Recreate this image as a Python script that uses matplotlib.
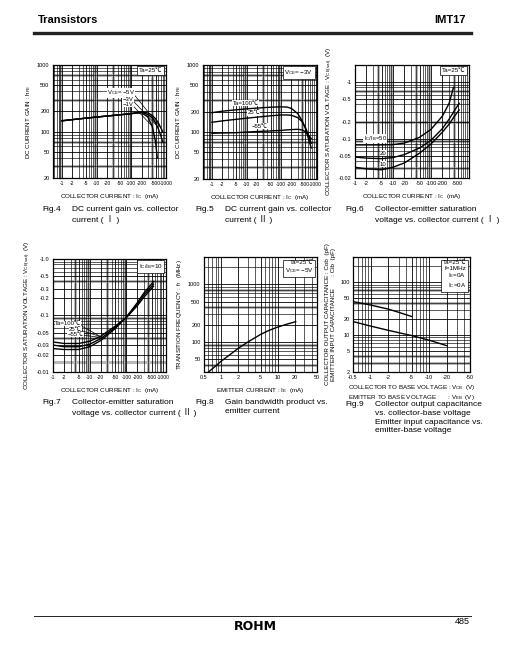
import numpy as np
import matplotlib
matplotlib.use("Agg")
import matplotlib.pyplot as plt
from matplotlib.ticker import FixedLocator, LogLocator, NullFormatter

plt.rcParams["font.family"] = ["Liberation Sans", "Noto Sans CJK JP", "DejaVu Sans"]
plt.rcParams["mathtext.default"] = "regular"

W, H = 505, 649

# ---- data ----
# Fig.4  DC current gain vs collector current (I), Ta=25C
ic4 = [1, 2, 5, 10, 20, 50, 100, 150, 200, 300, 400, 500, 600, 700, 800]
hfe4_5v = [145, 151, 159, 165, 171, 179, 186, 192, 197, 190, 175, 155, 135, 115, 100]
hfe4_3v = [145, 151, 159, 165, 171, 179, 186, 191, 194, 180, 160, 135, 110, 88, 70]
ic4_1v = [1, 2, 5, 10, 20, 50, 100, 150, 200, 300, 400, 500, 560]
hfe4_1v = [145, 151, 159, 165, 171, 179, 186, 190, 190, 165, 120, 70, 40]

# Fig.5  DC current gain vs collector current (II), VCE=-3V
ic5 = [1, 2, 5, 10, 20, 50, 100, 150, 200, 300, 400, 500, 600, 750]
hfe5_100 = [195, 205, 215, 222, 228, 235, 238, 236, 225, 190, 150, 115, 85, 58]
hfe5_25 = [140, 147, 155, 161, 167, 175, 180, 180, 178, 165, 145, 120, 95, 68]
hfe5_m55 = [96, 97, 98, 100, 102, 104, 106, 108, 109, 110, 108, 102, 92, 80]

# Fig.6  VCE(sat) vs IC (I), Ta=25C
ic6_50 = [1, 2, 5, 10, 20, 50, 100, 200, 300, 390]
vs6_50 = [0.077, 0.077, 0.077, 0.078, 0.083, 0.105, 0.145, 0.25, 0.42, 0.8]
ic6 = [1, 2, 5, 10, 20, 50, 100, 200, 300, 400, 550]
vs6_20 = [0.047, 0.045, 0.044, 0.046, 0.052, 0.068, 0.093, 0.15, 0.22, 0.30, 0.42]
vs6_10 = [0.031, 0.029, 0.028, 0.031, 0.037, 0.055, 0.08, 0.13, 0.18, 0.24, 0.32]

# Fig.7  VCE(sat) vs IC (II), IC/IB=10
ic7 = [1, 2, 5, 10, 20, 50, 100, 200, 300, 550]
vs7_100 = [0.034, 0.032, 0.032, 0.035, 0.043, 0.065, 0.092, 0.15, 0.21, 0.33]
vs7_25 = [0.030, 0.028, 0.028, 0.031, 0.039, 0.062, 0.093, 0.16, 0.23, 0.36]
vs7_m55 = [0.026, 0.025, 0.025, 0.028, 0.036, 0.059, 0.094, 0.17, 0.25, 0.40]

# Fig.8  fT vs IE
ie8 = [0.6, 0.8, 1, 1.5, 2, 3, 5, 7, 10, 15, 21]
ft8 = [30, 38, 46, 62, 77, 100, 135, 158, 181, 205, 225]

# Fig.9  Cob / Cib
vcb9 = [0.5, 1, 2, 3, 5]
cob9 = [43, 37, 31, 27, 22.5]
veb9 = [0.5, 1, 2, 5, 10, 20]
cib9 = [18, 14.8, 12.3, 9.8, 8.0, 6.3]

x_ic = [1, 2, 5, 10, 20, 50, 100, 200, 500, 1000]
x_ic_lab = ["-1", "-2", "-5", "-10", "-20", "-50", "-100", "-200", "-500", "-1000"]
x_ic6 = [1, 2, 5, 10, 20, 50, 100, 200, 500]
x_ic6_lab = ["-1", "-2", "-5", "-10", "-20", "-50", "-100", "-200", "-500"]
y_hfe = [20, 50, 100, 200, 500, 1000]
y_vs6 = [0.02, 0.05, 0.1, 0.2, 0.5, 1]
y_vs6_lab = ["-0.02", "-0.05", "-0.1", "-0.2", "-0.5", "-1"]
y_vs7 = [0.01, 0.02, 0.03, 0.05, 0.1, 0.2, 0.3, 0.5, 1.0]
y_vs7_lab = ["-0.01", "-0.02", "-0.03", "-0.05", "-0.1", "-0.2", "-0.3", "-0.5", "-1.0"]
x_ie = [0.5, 1, 2, 5, 10, 20, 50]
y_ft = [50, 100, 200, 500, 1000]
x_v9 = [0.5, 1, 2, 5, 10, 20, 50]
x_v9_lab = ["-0.5", "-1", "-2", "-5", "-10", "-20", "-50"]
y_c9 = [2, 5, 10, 20, 50, 100]

fig = plt.figure(figsize=(W / 100, H / 100), dpi=100)


def px_axes(l, t, r, b):
    return fig.add_axes([l / W, 1 - b / H, (r - l) / W, (b - t) / H])


def setup(ax, xlim, ylim, xt, xl, yt, yl, gx=(), gy=(), xfs=4.0):
    ax.set_xscale("log")
    ax.set_yscale("log")
    ax.set_xlim(*xlim)
    ax.set_ylim(*ylim)
    ax.xaxis.set_major_locator(FixedLocator(xt))
    ax.set_xticklabels(xl)
    ax.yaxis.set_major_locator(FixedLocator(yt))
    ax.set_yticklabels(yl)
    for a in (ax.xaxis, ax.yaxis):
        a.set_minor_locator(LogLocator(base=10, subs=np.arange(1, 10), numticks=20))
        a.set_minor_formatter(NullFormatter())
    ax.grid(which="minor", color="k", lw=0.45)
    ax.grid(which="major", color="k", lw=0.6)
    ax.tick_params(which="both", length=0, pad=2.5, labelsize=4.0)
    ax.tick_params(axis="x", labelsize=xfs)
    for s in ax.spines.values():
        s.set_linewidth(0.9)
    # grey shading bands seen on the scanned grid
    for g in gx:
        ax.axvline(g, color="0.72", lw=2.2, zorder=0.5)
    for g in gy:
        ax.axhline(g, color="0.72", lw=2.2, zorder=0.5)
    ax.set_axisbelow(True)


def boxtext(ax, s):
    ax.text(0.97, 0.975, s, transform=ax.transAxes, ha="right", va="top",
            fontsize=4.5, linespacing=1.15,
            bbox=dict(boxstyle="square,pad=0.3", fc="white", ec="k", lw=0.5))


def lab(ax, x, y, s):
    ax.text(x, y, s, fontsize=4.3, va="center", ha="left",
            bbox=dict(fc="white", ec="none", pad=0.2))


lw = 1.0
fs_lab = 4.5

# Fig.4
ax4 = px_axes(53, 65, 166, 178)
setup(ax4, (0.55, 1000), (20, 1000), x_ic, x_ic_lab, y_hfe, [str(v) for v in y_hfe],
      gx=[0.9, 9, 30, 90, 400], gy=[30, 70, 300, 700], xfs=3.6)
ax4.plot(ic4, hfe4_5v, "k", lw=lw)
ax4.plot(ic4, hfe4_3v, "k", lw=lw)
ax4.plot(ic4_1v, hfe4_1v, "k", lw=lw)
boxtext(ax4, "Ta=25℃")
lab(ax4, 20, 380, "V$_{CE}$= −5V")
lab(ax4, 55, 307, "−3V")
lab(ax4, 55, 259, "−1V")
ax4.plot([110, 700], [380, 115], "k", lw=0.5)
ax4.plot([100, 550], [307, 122], "k", lw=0.5)
ax4.plot([100, 400], [259, 120], "k", lw=0.5)
ax4.set_xlabel("COLLECTOR CURRENT : I$_C$  (mA)", fontsize=fs_lab, labelpad=4)
ax4.set_ylabel("DC CURRENT GAIN : h$_{FE}$", fontsize=fs_lab, labelpad=3)

# Fig.5
ax5 = px_axes(203, 65, 317, 179)
setup(ax5, (0.55, 1100), (20, 1000), x_ic, x_ic_lab, y_hfe, [str(v) for v in y_hfe],
      gx=[0.9, 9, 30, 90, 400], gy=[30, 70, 300, 700], xfs=3.6)
ax5.plot(ic5, hfe5_100, "k", lw=lw)
ax5.plot(ic5, hfe5_25, "k", lw=lw)
ax5.plot(ic5, hfe5_m55, "k", lw=lw)
boxtext(ax5, "V$_{CE}$= −3V")
lab(ax5, 4, 272, "Ta=100℃")
lab(ax5, 10.5, 195, "25℃")
lab(ax5, 14, 122, "−55℃")
ax5.set_xlabel("COLLECTOR CURRENT : I$_C$  (mA)", fontsize=fs_lab, labelpad=4)
ax5.set_ylabel("DC CURRENT GAIN : h$_{FE}$", fontsize=fs_lab, labelpad=3)

# Fig.6
ax6 = px_axes(355, 65, 469, 178)
setup(ax6, (1, 1000), (0.02, 2), x_ic6, x_ic6_lab, y_vs6, y_vs6_lab,
      gx=[4, 9, 40, 90, 400], gy=[0.03, 0.09, 0.2, 0.7])
ax6.plot(ic6_50, vs6_50, "k", lw=lw)
ax6.plot(ic6, vs6_20, "k", lw=lw)
ax6.plot(ic6, vs6_10, "k", lw=lw)
boxtext(ax6, "Ta=25℃")
lab(ax6, 1.7, 0.1, "I$_C$/I$_B$=50")
lab(ax6, 4.5, 0.055, "20")
lab(ax6, 4.5, 0.035, "10")
ax6.set_xlabel("COLLECTOR CURRENT : I$_C$  (mA)", fontsize=fs_lab, labelpad=4)
ax6.set_ylabel("COLLECTOR SATURATION VOLTAGE : V$_{CE(sat)}$  (V)", fontsize=fs_lab, labelpad=3)

# Fig.7
ax7 = px_axes(53, 259, 166, 372)
setup(ax7, (1, 1200), (0.01, 1.0), x_ic, x_ic_lab, y_vs7, y_vs7_lab,
      gx=[4, 9, 30, 90, 400], gy=[0.015, 0.04, 0.09, 0.4], xfs=3.6)
ax7.plot(ic7, vs7_100, "k", lw=lw)
ax7.plot(ic7, vs7_25, "k", lw=lw)
ax7.plot(ic7, vs7_m55, "k", lw=lw)
boxtext(ax7, "I$_C$/I$_B$=10")
lab(ax7, 1.12, 0.072, "Ta=100℃")
lab(ax7, 2.7, 0.057, "25℃")
lab(ax7, 2.5, 0.046, "−55℃")
ax7.plot([4.6, 19], [0.072, 0.043], "k", lw=0.5)
ax7.plot([4.6, 23], [0.057, 0.041], "k", lw=0.5)
ax7.plot([4.9, 26], [0.046, 0.040], "k", lw=0.5)
ax7.set_xlabel("COLLECTOR CURRENT : I$_C$  (mA)", fontsize=fs_lab, labelpad=4)
ax7.set_ylabel("COLLECTOR SATURATION VOLTAGE : V$_{CE(sat)}$  (V)", fontsize=fs_lab, labelpad=3)

# Fig.8
ax8 = px_axes(204, 257, 317, 372)
setup(ax8, (0.5, 50), (30, 3000), x_ie, [str(v) for v in x_ie], y_ft, [str(v) for v in y_ft],
      gx=[], gy=[40, 90, 400, 800])
ax8.plot(ie8, ft8, "k", lw=lw)
boxtext(ax8, "Ta=25℃\nV$_{CE}$= −5V")
ax8.set_xlabel("EMITTER CURRENT : I$_E$  (mA)", fontsize=fs_lab, labelpad=4)
ax8.set_ylabel("TRANSITION FREQUENCY : f$_T$  (MHz)", fontsize=fs_lab, labelpad=3)

# Fig.9
ax9 = px_axes(353, 257, 470, 372)
setup(ax9, (0.5, 50), (2, 300), x_v9, x_v9_lab, y_c9, [str(v) for v in y_c9],
      gx=[], gy=[3, 4, 40, 70])
ax9.plot(vcb9, cob9, "k", lw=lw)
ax9.plot(veb9, cib9, "k", lw=lw)
boxtext(ax9, "Ta=25℃\nf=1MHz\nI$_E$=0A\nI$_C$=0A")
ax9.set_xlabel("COLLECTOR TO BASE VOLTAGE : V$_{CB}$  (V)\nEMITTER TO BASE VOLTAGE       : V$_{EB}$  (V)",
               fontsize=fs_lab, labelpad=2, linespacing=1.05)
ax9.set_ylabel("COLLECTOR OUTPUT CAPACITANCE : Cob  (pF)\nEMITTER INPUT CAPACITANCE       : Cib  (pF)",
               fontsize=fs_lab, labelpad=3, linespacing=1.15)

# captions
capfs = 6.0


def caption(xf, xt, y, num, lines):
    fig.text(xf / W, 1 - y / H, num, fontsize=capfs, va="top")
    fig.text(xt / W, 1 - y / H, "\n".join(lines), fontsize=capfs, va="top", linespacing=1.35)


caption(42, 72, 206, "Fig.4", ["DC current gain vs. collector", "current ( Ⅰ )"])
caption(195, 225, 206, "Fig.5", ["DC current gain vs. collector", "current ( Ⅱ )"])
caption(345, 375, 206, "Fig.6", ["Collector-emitter saturation", "voltage vs. collector current ( Ⅰ )"])
caption(42, 72, 399, "Fig.7", ["Collector-emitter saturation", "voltage vs. collector current ( Ⅱ )"])
caption(195, 225, 399, "Fig.8", ["Gain bandwidth product vs.", "emitter current"])
caption(345, 375, 401, "Fig.9", ["Collector output capacitance", "vs. collector-base voltage",
                                 "Emitter input capacitance vs.", "emitter-base voltage"])

# header / footer
fig.text(38 / W, 1 - 20 / H, "Transistors", fontsize=8, fontweight="bold", va="center", ha="left")
fig.text(466 / W, 1 - 20 / H, "IMT17", fontsize=8, fontweight="bold", va="center", ha="right")
fig.add_artist(plt.Line2D([34 / W, 471 / W], [1 - 33 / H, 1 - 33 / H], color="#222222", lw=2.4))
fig.add_artist(plt.Line2D([34 / W, 471 / W], [1 - 616 / H, 1 - 616 / H], color="#222222", lw=0.7))
fig.text(255 / W, 1 - 626 / H, "ROHM", fontsize=9, fontweight="heavy", va="center", ha="center",
         family="DejaVu Sans")
fig.text(470 / W, 1 - 621 / H, "485", fontsize=6.5, va="center", ha="right")

fig.savefig("out.png", dpi=100)
